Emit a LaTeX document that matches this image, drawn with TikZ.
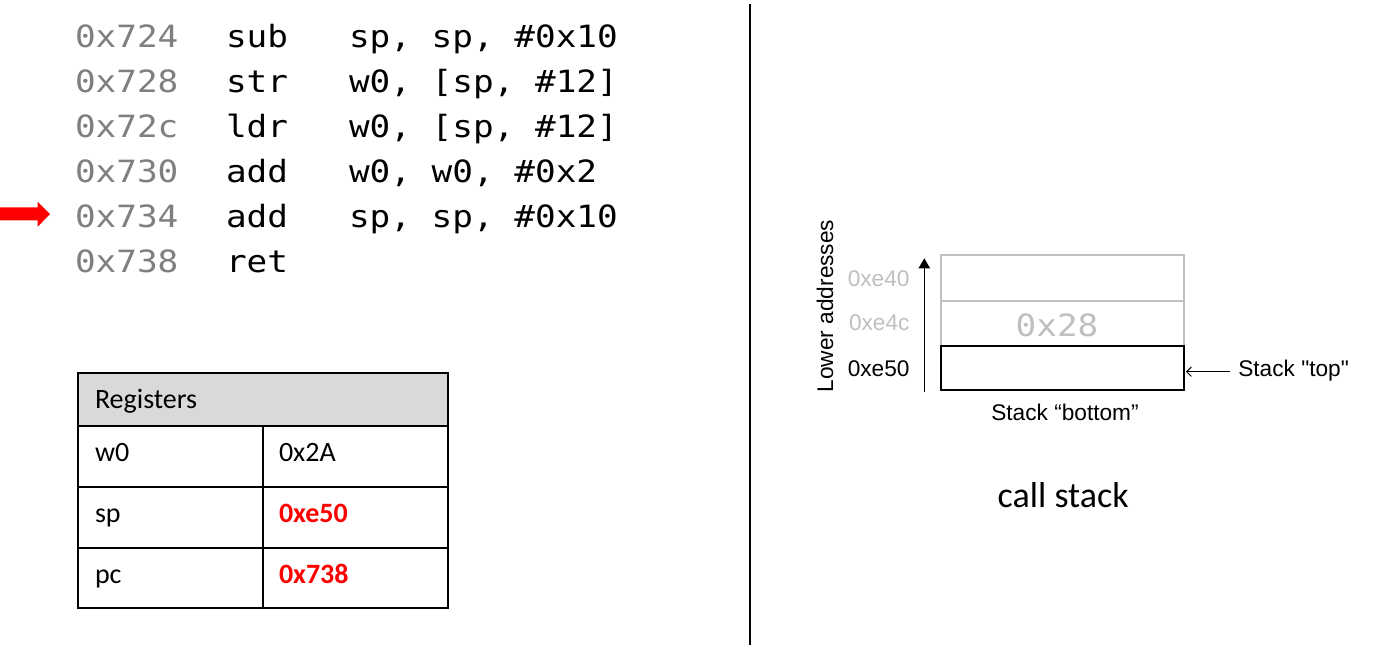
\documentclass[tikz,border=0pt]{standalone}
\usepackage{fontspec}
\setmainfont{Carlito}
\newfontfamily\codefont[FakeStretch=1.12]{DejaVu Sans Mono}
\newfontfamily\arialfont{Liberation Sans}
\newfontfamily\calfont{Carlito}
\usetikzlibrary{arrows.meta}
\definecolor{codegray}{HTML}{7F7F7F}
\definecolor{stackgray}{HTML}{BFBFBF}
\definecolor{headgray}{HTML}{D9D9D9}
\definecolor{hotred}{HTML}{FF0000}
\tikzset{
  codetxt/.style={anchor=base west, font=\codefont\fontsize{23pt}{27pt}\selectfont},
  addr/.style={codetxt, text=codegray},
  regtxt/.style={anchor=base west, font=\calfont\fontsize{21pt}{25pt}\selectfont},
  regval/.style={regtxt, text=hotred, font=\calfont\bfseries\fontsize{21pt}{25pt}\selectfont},
  stacklbl/.style={font=\arialfont\fontsize{17pt}{20pt}\selectfont},
  tblline/.style={line width=1.5pt},
}
\begin{document}
\begin{tikzpicture}[x=0.75pt,y=-0.75pt, every node/.style={inner sep=0pt, outer sep=0pt}]
\useasboundingbox (0,0) rectangle (1385,646);

% code listing
\node[addr] (a1) at (75,47.3) {0x724};
\node[codetxt] (m1) at (226,47.3) {sub};
\node[codetxt] (o1) at (349,47.3) {sp, sp, \#0x10};
\node[addr] (a2) at (75,92.3) {0x728};
\node[codetxt] (m2) at (226,92.3) {str};
\node[codetxt] (o2) at (349,92.3) {w0, [sp, \#12]};
\node[addr] (a3) at (75,137.3) {0x72c};
\node[codetxt] (m3) at (226,137.3) {ldr};
\node[codetxt] (o3) at (349,137.3) {w0, [sp, \#12]};
\node[addr] (a4) at (75,182.3) {0x730};
\node[codetxt] (m4) at (226,182.3) {add};
\node[codetxt] (o4) at (349,182.3) {w0, w0, \#0x2};
\node[addr] (a5) at (75,227.3) {0x734};
\node[codetxt] (m5) at (226,227.3) {add};
\node[codetxt] (o5) at (349,227.3) {sp, sp, \#0x10};
\node[addr] (a6) at (75,272.3) {0x738};
\node[codetxt] (m6) at (226,272.3) {ret};

% red arrow
\fill[hotred] (0,207.3) -- (37.7,207.3) -- (37.7,201.7) -- (50,214) -- (37.7,226.7) -- (37.7,220.3) -- (0,220.3) -- cycle;

% divider
\draw[line width=0.9pt] (750,4) -- (750,645);

% registers table
\fill[headgray] (78.3,373.3) rectangle (448.3,426);
\draw[tblline] (78.3,373.3) rectangle (448.3,608.3);
\draw[tblline] (78.3,426) -- (448.3,426);
\draw[tblline] (78.3,486.7) -- (448.3,486.7);
\draw[tblline] (78.3,547.7) -- (448.3,547.7);
\draw[tblline] (263.3,426) -- (263.3,608.3);
\node[regtxt] (rh) at (95,408.3) {Registers};
\node[regtxt] (r1) at (95,461.7) {w0};
\node[regtxt] (v1) at (279,461.7) {0x2A};
\node[regtxt] (r2) at (95,522.6) {sp};
\node[regval] (v2) at (279,522.6) {0xe50};
\node[regtxt] (r3) at (95,583.4) {pc};
\node[regval] (v3) at (279,583.4) {0x738};

% call stack
\draw[stackgray, line width=1.4pt] (941,255) rectangle (1184.3,345.7);
\draw[stackgray, line width=1.4pt] (941,300.7) -- (1184.3,300.7);
\draw[line width=1.5pt] (941,345.7) rectangle (1184.3,390.3);
\node[codetxt, anchor=center, text=stackgray] (v28) at (1057,325) {0x28};

\coordinate (upS) at (924.3,391.7);
\coordinate (upE) at (924.3,258.3);
\draw[line width=0.9pt, -{Triangle[length=7.5pt,width=8.5pt]}] (upS) -- (upE);
\node[stacklbl, rotate=90] (lower) at (825,306) {Lower addresses};
\node[stacklbl, anchor=east, text=stackgray] (e40) at (909.5,278.3) {0xe40};
\node[stacklbl, anchor=east, text=stackgray] (e4c) at (909.5,323) {0xe4c};
\node[stacklbl, anchor=east] (e50) at (909.5,369) {0xe50};
\node[stacklbl, anchor=base] (bottom) at (1065,420) {Stack “bottom”};
\node[stacklbl, anchor=base west] (toplbl) at (1238.3,376) {Stack "top"};
\coordinate (topTail) at (1230,371.7);
\coordinate (boxE) at (1186,371.7);
\draw[line width=0.75pt, -{Straight Barb[length=3.5pt,width=7pt]}] (topTail) -- (boxE);

\node[anchor=base, font=\calfont\fontsize{27pt}{32pt}\selectfont] (cs) at (1063.2,507.3) {call stack};
\end{tikzpicture}
\end{document}
